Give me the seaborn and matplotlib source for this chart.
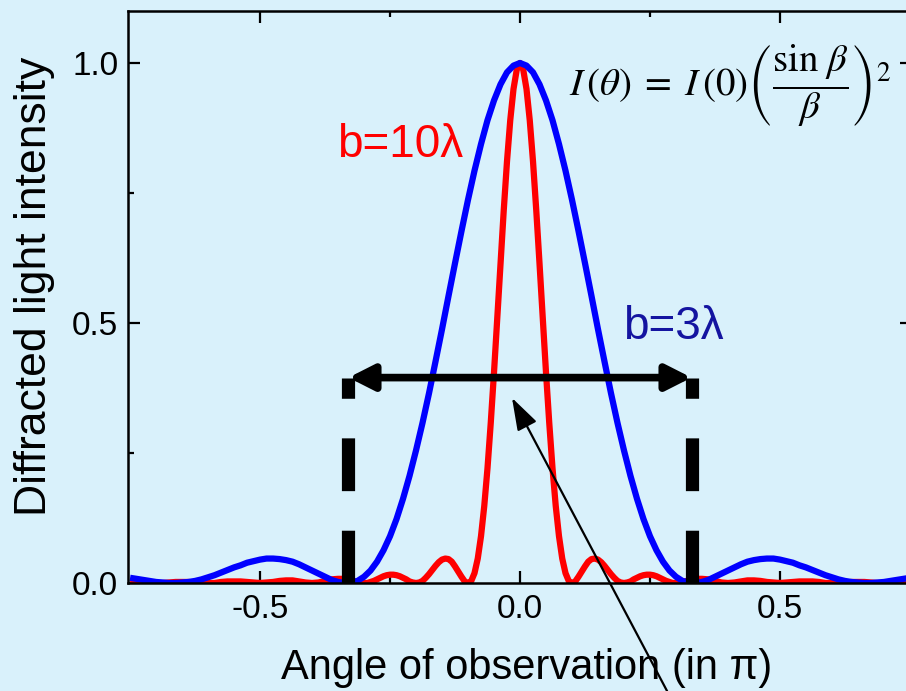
import numpy as np
import pandas as pd
import matplotlib
matplotlib.use('Agg')
import matplotlib.pyplot as plt
import seaborn as sb

# angle of observation (in units of pi) and intensity
red_angle = [-0.75, -0.7375, -0.725, -0.7125, -0.7, -0.6875, -0.675, -0.6625, -0.65, -0.6375,
             -0.625, -0.6125, -0.6, -0.5875, -0.575, -0.5625, -0.55, -0.5375, -0.525, -0.5125,
             -0.5, -0.4875, -0.475, -0.4625, -0.45, -0.4375, -0.425, -0.4125, -0.4, -0.3875,
             -0.375, -0.3625, -0.35, -0.3375, -0.325, -0.3125,
             -0.3, -0.29375, -0.2875, -0.28125, -0.275, -0.26875, -0.2625, -0.25625,
             -0.25, -0.24375, -0.2375, -0.23125, -0.225, -0.21875, -0.2125, -0.20625,
             -0.2, -0.19375, -0.1875, -0.18125, -0.175, -0.16875, -0.1625, -0.15625,
             -0.15, -0.14375, -0.1375, -0.13125, -0.125, -0.11875, -0.1125, -0.10625,
             -0.1, -0.09375, -0.0875, -0.08125, -0.075, -0.06875, -0.0625, -0.05625,
             -0.05, -0.04375, -0.0375, -0.03125, -0.025, -0.01875, -0.0125, -0.00625,
             0.0, 0.00625, 0.0125, 0.01875, 0.025, 0.03125, 0.0375, 0.04375,
             0.05, 0.05625, 0.0625, 0.06875, 0.075, 0.08125, 0.0875, 0.09375,
             0.1, 0.10625, 0.1125, 0.11875, 0.125, 0.13125, 0.1375, 0.14375,
             0.15, 0.15625, 0.1625, 0.16875, 0.175, 0.18125, 0.1875, 0.19375,
             0.2, 0.20625, 0.2125, 0.21875, 0.225, 0.23125, 0.2375, 0.24375,
             0.25, 0.25625, 0.2625, 0.26875, 0.275, 0.28125, 0.2875, 0.29375, 0.3,
             0.3125, 0.325, 0.3375, 0.35, 0.3625, 0.375, 0.3875, 0.4, 0.4125, 0.425,
             0.4375, 0.45, 0.4625, 0.475, 0.4875, 0.5, 0.5125, 0.525, 0.5375, 0.55,
             0.5625, 0.575, 0.5875, 0.6, 0.6125, 0.625, 0.6375, 0.65, 0.6625, 0.675,
             0.6875, 0.7, 0.7125, 0.725, 0.7375, 0.75]
red_intensity = [0.002, 0.002, 0.001, 0.000, 0.000, 0.000, 0.001, 0.002, 0.002, 0.002,
                 0.001, 0.000, 0.000, 0.000, 0.002, 0.003, 0.003, 0.003, 0.002, 0.001,
                 0.000, 0.001, 0.002, 0.004, 0.005, 0.005, 0.003, 0.001, 0.000, 0.001,
                 0.004, 0.007, 0.008, 0.008, 0.005, 0.002,
                 0.000, 0.000, 0.002, 0.004, 0.007, 0.010, 0.013, 0.015,
                 0.016, 0.016, 0.015, 0.013, 0.010, 0.007, 0.003, 0.001,
                 0.000, 0.001, 0.004, 0.010, 0.017, 0.025, 0.033, 0.040,
                 0.045, 0.047, 0.046, 0.041, 0.032, 0.022, 0.012, 0.003,
                 0.000, 0.004, 0.019, 0.047, 0.090, 0.148, 0.221, 0.308,
                 0.405, 0.509, 0.615, 0.717, 0.811, 0.890, 0.950, 0.987,
                 1.000, 0.987, 0.950, 0.890, 0.811, 0.717, 0.615, 0.509,
                 0.405, 0.308, 0.221, 0.148, 0.090, 0.047, 0.019, 0.004,
                 0.000, 0.003, 0.012, 0.022, 0.032, 0.041, 0.046, 0.047,
                 0.045, 0.040, 0.033, 0.025, 0.017, 0.010, 0.004, 0.001,
                 0.000, 0.001, 0.003, 0.007, 0.010, 0.013, 0.015, 0.016,
                 0.016, 0.015, 0.013, 0.010, 0.007, 0.004, 0.002, 0.000, 0.000,
                 0.002, 0.005, 0.008, 0.008, 0.007, 0.004, 0.001, 0.000, 0.001, 0.003,
                 0.005, 0.005, 0.004, 0.002, 0.001, 0.000, 0.001, 0.002, 0.003, 0.003,
                 0.003, 0.002, 0.000, 0.000, 0.000, 0.001, 0.002, 0.002, 0.002, 0.001,
                 0.000, 0.000, 0.000, 0.001, 0.002, 0.002]

blue_angle = [-0.75, -0.7375, -0.725, -0.7125, -0.7, -0.6875, -0.675, -0.6625, -0.65, -0.6375,
              -0.625, -0.6125, -0.6, -0.5875, -0.575, -0.5625, -0.55, -0.5375, -0.525, -0.5125,
              -0.5, -0.4875, -0.475, -0.4625, -0.45, -0.4375, -0.425, -0.4125, -0.4, -0.3875,
              -0.375, -0.3625, -0.35, -0.3375, -0.325, -0.3125, -0.3, -0.2875, -0.275, -0.2625,
              -0.25, -0.2375, -0.225, -0.2125, -0.2, -0.1875, -0.175, -0.1625, -0.15, -0.1375,
              -0.125, -0.1125, -0.1, -0.0875, -0.075, -0.0625, -0.05, -0.0375, -0.025, -0.0125,
              0.0, 0.0125, 0.025, 0.0375, 0.05, 0.0625, 0.075, 0.0875, 0.1, 0.1125,
              0.125, 0.1375, 0.15, 0.1625, 0.175, 0.1875, 0.2, 0.2125, 0.225, 0.2375,
              0.25, 0.2625, 0.275, 0.2875, 0.3, 0.3125, 0.325, 0.3375, 0.35, 0.3625,
              0.375, 0.3875, 0.4, 0.4125, 0.425, 0.4375, 0.45, 0.4625, 0.475, 0.4875,
              0.5, 0.5125, 0.525, 0.5375, 0.55, 0.5625, 0.575, 0.5875, 0.6, 0.6125,
              0.625, 0.6375, 0.65, 0.6625, 0.675, 0.6875, 0.7, 0.7125, 0.725, 0.7375, 0.75]
blue_intensity = [0.010, 0.008, 0.006, 0.004, 0.002, 0.001, 0.000, 0.000, 0.001, 0.002,
                  0.004, 0.007, 0.011, 0.015, 0.020, 0.025, 0.030, 0.034, 0.039, 0.042,
                  0.045, 0.047, 0.047, 0.046, 0.044, 0.041, 0.036, 0.030, 0.024, 0.018,
                  0.012, 0.006, 0.002, 0.000, 0.001, 0.004, 0.012, 0.024, 0.041, 0.063,
                  0.090, 0.123, 0.162, 0.206, 0.255, 0.308, 0.365, 0.426, 0.488, 0.552,
                  0.615, 0.677, 0.737, 0.793, 0.844, 0.890, 0.928, 0.959, 0.982, 0.995,
                  1.000, 0.995, 0.982, 0.959, 0.928, 0.890, 0.844, 0.793, 0.737, 0.677,
                  0.615, 0.552, 0.488, 0.426, 0.365, 0.308, 0.255, 0.206, 0.162, 0.123,
                  0.090, 0.063, 0.041, 0.024, 0.012, 0.004, 0.001, 0.000, 0.002, 0.006,
                  0.012, 0.018, 0.024, 0.030, 0.036, 0.041, 0.044, 0.046, 0.047, 0.047,
                  0.045, 0.042, 0.039, 0.034, 0.030, 0.025, 0.020, 0.015, 0.011, 0.007,
                  0.004, 0.002, 0.001, 0.000, 0.000, 0.001, 0.002, 0.004, 0.006, 0.008, 0.010]

slit_labels = ['b=10λ', 'b=3λ']
slit_colors = {'b=10λ': '#ff0000', 'b=3λ': '#0000ff'}

# first zeros of the b=3λ pattern and the height of the width arrow
zero_angle = 0.33
arrow_height = 0.395

bg = '#d9f1fb'

sb.set_theme(style='ticks')
plt.rcParams['font.family'] = ['Liberation Sans', 'DejaVu Sans']
plt.rcParams['axes.unicode_minus'] = False
plt.rcParams['text.color'] = 'black'
plt.rcParams['axes.labelcolor'] = 'black'

frame = pd.DataFrame({
    'angle': red_angle + blue_angle,
    'intensity': red_intensity + blue_intensity,
    'slit': [slit_labels[0]] * len(red_angle) + [slit_labels[1]] * len(blue_angle),
})

fig = plt.figure(figsize=(9.06, 6.91), dpi=100, facecolor=bg)
ax = fig.add_axes([128 / 906, 108 / 691, 784 / 906, 572 / 691])
ax.set_facecolor(bg)

# red first so the blue curve sits on top like in the original
sb.lineplot(data=frame, x='angle', y='intensity', hue='slit', hue_order=slit_labels,
            palette=slit_colors, lw=4.5, estimator=None, sort=True, legend=False, ax=ax,
            solid_joinstyle='round', solid_capstyle='butt')

for xz in (-zero_angle, zero_angle):
    ax.plot([xz, xz], [0, arrow_height], color='black', lw=9.5,
            linestyle=(0, (4.0, 3.0)), dash_capstyle='butt', zorder=4)

ax.annotate('', xy=(zero_angle, arrow_height), xytext=(-zero_angle, arrow_height),
            arrowprops=dict(arrowstyle='<|-|>,head_length=0.75,head_width=0.38',
                            mutation_scale=20, lw=5.5, color='black',
                            shrinkA=0, shrinkB=0), zorder=5)

ax.annotate('', xy=(-0.0154, 0.356), xytext=(0.283, -0.208), annotation_clip=False,
            arrowprops=dict(arrowstyle='-|>,head_length=1.0,head_width=0.33',
                            mutation_scale=20, lw=1.6, color='black',
                            shrinkA=0, shrinkB=0), zorder=5)

ax.text(-0.352, 0.819, 'b=10λ', color='#ff0000', fontsize=33, ha='left', va='baseline')
ax.text(0.198, 0.469, 'b=3λ', color='#1414a0', fontsize=33, ha='left', va='baseline')
ax.text(0.094, 0.958,
        r'$I\,(\theta)\;=\;I\,(0)\left(\dfrac{\sin\,\beta}{\beta}\right)^2$',
        fontsize=28, math_fontfamily='stix', ha='left', va='center')

ax.set_xlim(-0.754, 0.754)
ax.set_ylim(0, 1.1)
ax.set_xticks([-0.5, 0.0, 0.5])
ax.set_xticks([-0.25, 0.25], minor=True)
ax.set_yticks([0.0, 0.5, 1.0])
ax.set_yticks([0.25, 0.75], minor=True)
ax.set_xticklabels(['-0.5', '0.0', '0.5'])
ax.set_yticklabels(['0.0', '0.5', '1.0'])
ax.tick_params(which='both', direction='in', top=True, right=True, width=1.6,
               colors='black', labelsize=24)
ax.tick_params(which='major', length=8.6)
ax.tick_params(which='minor', length=4.5)
ax.tick_params(axis='x', pad=8)
ax.tick_params(axis='y', pad=7)
for sp in ax.spines.values():
    sp.set_linewidth(1.8)
    sp.set_color('black')

ax.set_xlabel('Angle of observation (in π)', fontsize=30)
ax.set_ylabel('Diffracted light intensity', fontsize=32)
ax.xaxis.set_label_coords(0.509, -0.113)
ax.yaxis.set_label_coords(-0.093, 0.519)

fig.savefig('out.png', dpi=100, facecolor=bg)
